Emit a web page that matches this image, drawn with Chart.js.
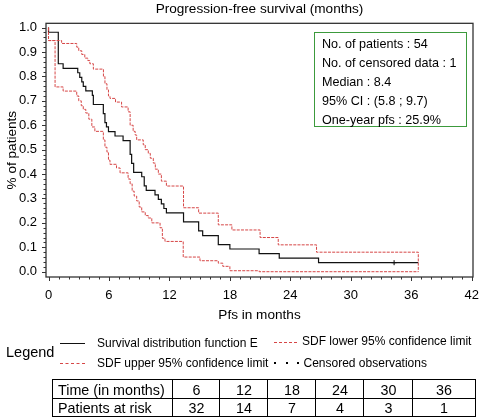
<!DOCTYPE html>
<html><head><meta charset="utf-8">
<script src="https://cdn.jsdelivr.net/npm/chart.js@4"></script>
<style>
html,body{margin:0;padding:0;background:#fff;}
#wrap{position:relative;width:480px;height:420px;font-family:"Liberation Sans",Arial,sans-serif;color:#000;overflow:hidden;}
#c{position:absolute;left:0;top:0;}
.abs{position:absolute;white-space:nowrap;}
#stats{left:314px;top:32px;width:153px;height:95px;border:1.5px solid #3c9a3c;box-sizing:border-box;font-size:12.6px;line-height:19px;padding:2px 0 0 7px;}
.leg{font-size:12px;line-height:14px;}
.cell{position:absolute;box-sizing:border-box;border-left:1px solid #000;border-top:1px solid #000;font-size:14.3px;display:flex;align-items:center;justify-content:center;}
</style>
</head><body>
<div id="wrap">
<canvas id="c" width="480" height="420"></canvas>
<div id="stats" class="abs"></div>
<div id="legend"></div>
<div id="table"></div>
</div>
<script>
// ---- data ----
const chartTitle = 'Progression-free survival (months)';
const xTitle = 'Pfs in months';
const yTitle = '% of patients';
const timeTicks = [0, 6, 12, 18, 24, 30, 36, 42];
const survTicks = [0.0, 0.1, 0.2, 0.3, 0.4, 0.5, 0.6, 0.7, 0.8, 0.9, 1.0];

// Kaplan-Meier estimate (time in months, survival after the step)
const kmTimes  = [0, 0.97, 1.45, 2.9, 3.1, 3.3, 3.45, 3.7, 4.35, 4.45, 5.44, 5.6, 5.75, 5.95, 6.6, 7.4, 8.1, 8.25, 8.45, 9.25, 9.5, 9.7, 10.57, 10.9, 11.2, 11.45, 11.7, 13.4, 14.9, 15.3, 16.85, 18.0, 20.9, 22.9, 26.8, 31.3, 36.7];
const kmValues = [1.0, 0.981, 0.852, 0.833, 0.815, 0.796, 0.778, 0.759, 0.741, 0.722, 0.685, 0.648, 0.611, 0.593, 0.574, 0.556, 0.537, 0.481, 0.444, 0.407, 0.389, 0.352, 0.333, 0.315, 0.296, 0.278, 0.259, 0.241, 0.204, 0.167, 0.148, 0.111, 0.093, 0.074, 0.056, 0.037, 0.037];

// Upper 95% confidence limit
const upperTimes  = [0, 1.3, 2.8, 3.0, 3.3, 3.6, 3.9, 4.1, 4.45, 5.45, 5.6, 5.8, 5.95, 6.1, 6.65, 7.25, 7.9, 8.1, 8.4, 8.6, 8.75, 9.4, 9.6, 9.9, 10.1, 10.4, 10.6, 10.9, 11.2, 11.7, 13.4, 14.9, 16.85, 18.2, 21.0, 22.8, 26.6, 31.2, 36.7, 36.7];
const upperValues = [1.0, 0.947, 0.935, 0.92, 0.905, 0.89, 0.875, 0.865, 0.852, 0.83, 0.8, 0.77, 0.745, 0.72, 0.71, 0.695, 0.675, 0.655, 0.6, 0.575, 0.56, 0.54, 0.52, 0.5, 0.485, 0.465, 0.445, 0.42, 0.4, 0.371, 0.351, 0.262, 0.24, 0.192, 0.171, 0.14, 0.11, 0.08, 0.08, 0.0];

// Lower 95% confidence limit
const lowerTimes  = [0, 0.65, 1.45, 2.8, 3.0, 3.25, 3.45, 3.7, 4.0, 4.3, 4.6, 5.44, 5.6, 5.8, 5.95, 6.1, 6.75, 7.1, 7.9, 8.1, 8.3, 8.5, 8.75, 9.0, 9.25, 9.6, 9.9, 10.25, 11.07, 11.3, 11.56, 13.37, 15.03, 16.85, 17.3, 18.0, 20.9, 22.9, 36.7];
const lowerValues = [1.0, 0.947, 0.757, 0.74, 0.72, 0.7, 0.68, 0.665, 0.65, 0.625, 0.593, 0.575, 0.54, 0.51, 0.49, 0.457, 0.44, 0.425, 0.405, 0.38, 0.36, 0.33, 0.31, 0.29, 0.265, 0.245, 0.23, 0.22, 0.2, 0.18, 0.137, 0.124, 0.06, 0.045, 0.035, 0.022, 0.004, 0.0, 0.0];

// Censored observations
const censorTimes  = [34.3];
const censorValues = [0.037];

// Summary box
const statsLines = ['No. of patients : 54', 'No. of censored data : 1', 'Median : 8.4', '95% CI : (5.8 ; 9.7)', 'One-year pfs : 25.9%'];

// Legend labels
const legendLabels = ['Survival distribution function E', 'SDF lower 95% confidence limit', 'SDF upper 95% confidence limit', 'Censored observations'];

// Patients-at-risk table
const riskHeader = ['Time (in months)', 'Patients at risk'];
const riskTimes = [6, 12, 18, 24, 30, 36];
const patientsAtRisk = [32, 14, 7, 4, 3, 1];

// ---- build ----
const toPts = (t, v) => t.map((x, i) => ({x: x, y: v[i]}));
const RED = 'rgb(214,70,70)';
const FONT = '"Liberation Sans", Arial, sans-serif';

const frameTicks = {
  id: 'frameTicks',
  afterDraw(chart) {
    const {ctx, chartArea: a, scales: {x, y}} = chart;
    ctx.save();
    ctx.strokeStyle = '#333';
    ctx.lineWidth = 1.3;
    ctx.strokeRect(a.left, a.top, a.right - a.left, a.bottom - a.top);
    ctx.lineWidth = 1;
    ctx.beginPath();
    const xMinorStep = 1, xMajorEvery = 6;
    for (let m = timeTicks[0]; m <= timeTicks[timeTicks.length - 1]; m += xMinorStep) {
      const px = Math.round(x.getPixelForValue(m)) + 0.5;
      const len = (m % xMajorEvery === 0) ? 4 : 2.5;
      ctx.moveTo(px, a.bottom); ctx.lineTo(px, a.bottom + len);
    }
    const yMinorCount = 50;
    for (let i = 0; i <= yMinorCount; i++) {
      const py = Math.round(y.getPixelForValue(i / yMinorCount)) + 0.5;
      const len = (i % 5 === 0) ? 4 : 2.5;
      ctx.moveTo(a.left, py); ctx.lineTo(a.left - len, py);
    }
    ctx.stroke();
    ctx.restore();
  }
};

new Chart(document.getElementById('c'), {
  type: 'line',
  data: {
    datasets: [
      {label: legendLabels[2], data: toPts(upperTimes, upperValues), stepped: 'after', borderColor: RED, borderWidth: 1, borderDash: [3, 1.2], pointRadius: 0, fill: false},
      {label: legendLabels[1], data: toPts(lowerTimes, lowerValues), stepped: 'after', borderColor: RED, borderWidth: 1, borderDash: [3, 1.2], pointRadius: 0, fill: false},
      {label: legendLabels[0], data: toPts(kmTimes, kmValues), stepped: 'after', borderColor: '#111', borderWidth: 1.2, pointRadius: 0, fill: false},
      {label: legendLabels[3], type: 'scatter', data: toPts(censorTimes, censorValues), pointStyle: 'cross', pointRadius: 2.5, borderColor: '#000', borderWidth: 1, showLine: false}
    ]
  },
  options: {
    responsive: false,
    animation: false,
    events: [],
    layout: {padding: {left: 0, right: 7, top: 0, bottom: 90}},
    plugins: {
      legend: {display: false},
      tooltip: {enabled: false},
      title: {display: true, fullSize: false, text: chartTitle, color: '#000', font: {family: FONT, size: 13.6, weight: 'normal'}, padding: {top: 1, bottom: 6}}
    },
    scales: {
      x: {
        type: 'linear', min: -0.25, max: 42.13,
        grid: {display: false, drawTicks: false}, border: {display: false},
        afterBuildTicks: s => { s.ticks = timeTicks.map(v => ({value: v})); },
        afterFit: s => { s.height = 53; s.paddingLeft = 0; s.paddingRight = 0; },
        ticks: {padding: 11, color: '#000', autoSkip: false, maxRotation: 0, font: {family: FONT, size: 13}, callback: v => String(v)},
        title: {display: true, text: xTitle, color: '#000', font: {family: FONT, size: 13.6}, padding: {top: 0, bottom: 6.5}}
      },
      y: {
        min: -0.0217, max: 1.0176,
        grid: {display: false, drawTicks: false}, border: {display: false},
        afterBuildTicks: s => { s.ticks = survTicks.map(v => ({value: v})); },
        afterFit: s => { s.width = 46; s.paddingTop = 0; s.paddingBottom = 0; },
        ticks: {padding: 9, color: '#000', autoSkip: false, font: {family: FONT, size: 13}, callback: v => Number(v).toFixed(1)},
        title: {display: true, text: yTitle, color: '#000', font: {family: FONT, size: 13.6}, padding: {top: 4, bottom: 0}}
      }
    }
  },
  plugins: [frameTicks]
});

// stats box
document.getElementById('stats').innerHTML = statsLines.map(s => '<div>' + s + '</div>').join('');

// legend (HTML)
const legend = document.getElementById('legend');
function addText(txt, left, cy, size) {
  const d = document.createElement('div');
  d.className = 'abs leg';
  d.style.left = left + 'px';
  d.style.top = (cy - 7) + 'px';
  if (size) d.style.fontSize = size + 'px';
  d.textContent = txt;
  legend.appendChild(d);
}
function addLine(left, w, cy, style) {
  const d = document.createElement('div');
  d.className = 'abs';
  d.style.left = left + 'px';
  d.style.top = Math.round(cy) + 'px';
  d.style.width = w + 'px';
  d.style.height = '0px';
  d.style.borderTop = style;
  legend.appendChild(d);
}
addText('Legend', 6, 352, 14.5);
addLine(60, 25, 343, '1px solid #111');
addText(legendLabels[0], 97, 343);
addLine(274, 23, 342, '1px dashed ' + RED);
addText(legendLabels[1], 302, 341);
addLine(60, 25, 363, '1px dashed ' + RED);
addText(legendLabels[2], 97, 363);
[275, 286.5, 298].forEach(x => {
  const d = document.createElement('div');
  d.className = 'abs';
  d.style.left = (x - 1) + 'px'; d.style.top = '362px';
  d.style.width = '2px'; d.style.height = '2px'; d.style.background = '#000';
  legend.appendChild(d);
});
addText(legendLabels[3], 303.5, 363);

// table
const table = document.getElementById('table');
const colEdges = [52, 172, 219, 267, 315, 363, 412, 475];
const rowEdges = [379, 398, 416];
const rows = [[riskHeader[0]].concat(riskTimes.map(String)), [riskHeader[1]].concat(patientsAtRisk.map(String))];
rows.forEach((r, ri) => {
  r.forEach((txt, ci) => {
    const d = document.createElement('div');
    d.className = 'cell';
    d.style.left = colEdges[ci] + 'px';
    d.style.top = rowEdges[ri] + 'px';
    d.style.width = (colEdges[ci + 1] - colEdges[ci] + 1) + 'px';
    d.style.height = (rowEdges[ri + 1] - rowEdges[ri] + 1) + 'px';
    if (ci === r.length - 1) d.style.borderRight = '1px solid #000';
    if (ri === rows.length - 1) d.style.borderBottom = '1px solid #000';
    if (ci === 0) { d.style.justifyContent = 'flex-start'; d.style.paddingLeft = '5px'; }
    d.textContent = txt;
    table.appendChild(d);
  });
});
</script>
</body></html>
